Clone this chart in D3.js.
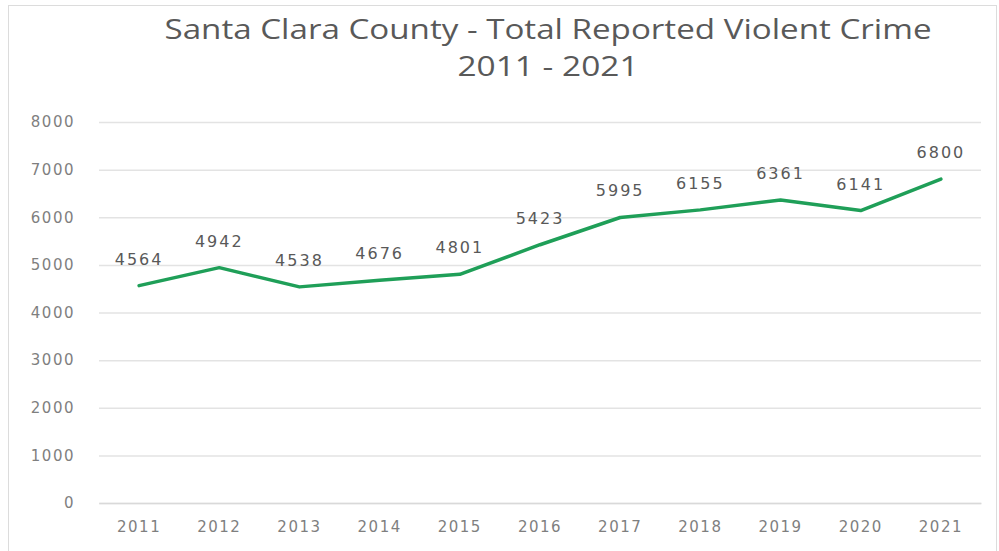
<!DOCTYPE html>
<html>
<head>
<meta charset="utf-8">
<script src="https://cdn.jsdelivr.net/npm/d3@7"></script>
<style>
    body { margin: 0; background: #fff; }
    svg { display: block; }
</style>
</head>
<body>
<script>
/* ========= Data ========= */
var years = ["2011", "2012", "2013", "2014", "2015", "2016", "2017", "2018", "2019", "2020", "2021"];
var crimes = [4564, 4942, 4538, 4676, 4801, 5423, 5995, 6155, 6361, 6141, 6800];
var yTicks = [0, 1000, 2000, 3000, 4000, 5000, 6000, 7000, 8000];
var titleLines = ["Santa Clara County - Total Reported Violent Crime", "2011 - 2021"];

/* ========= Constants ========= */
var w = 999;
var h = 551;
var lineColor = "#1f9f58";
var gridColor = "#e3e3e3";
var labelColor = "#595959";
var tickColor = "#7f7f7f";
var font = "'DejaVu Sans', sans-serif";
// stretched title widths (the original chart is wide)
var titleWidths = [767, 181];

var svg = d3.select("body")
    .append("svg")
    .attr("width", w)
    .attr("height", h);

// chart frame
svg.append("rect")
    .attr("x", 8.5)
    .attr("y", 5.5)
    .attr("width", 988)
    .attr("height", 560)
    .attr("fill", "#fff")
    .attr("stroke", "#dcdcdc");

/* ========= Scales ========= */
var xScale = d3.scaleBand()
    .domain(years)
    .range([99, 981]);
var yScale = d3.scaleLinear()
    .domain([0, 8000])
    .range([503, 122]);

/* ========= Title ========= */
svg.selectAll("text.title")
    .data(titleLines)
    .enter()
    .append("text")
    .attr("class", "title")
    .attr("x", 548)
    .attr("y", function (d, i) { return 39 + i * 37; })
    .attr("text-anchor", "middle")
    .attr("font-family", "'Open Sans', sans-serif")
    .attr("font-size", "28px")
    .attr("textLength", function (d, i) { return titleWidths[i]; })
    .attr("lengthAdjust", "spacingAndGlyphs")
    .attr("fill", labelColor)
    .text(function (d) { return d; });

/* ========= Grid + axes ========= */
var yAxis = d3.axisLeft(yScale)
    .tickValues(yTicks)
    .tickFormat(d3.format("d"))
    .tickSize(-(981 - 99))
    .tickPadding(24);
var gy = svg.append("g")
    .attr("transform", "translate(99,0)")
    .call(yAxis);
gy.select(".domain").remove();
gy.selectAll(".tick line").attr("stroke", gridColor).attr("stroke-width", 1.5);
gy.selectAll(".tick text")
    .attr("font-family", font)
    .attr("font-size", "15px")
    .attr("letter-spacing", "1.5px")
    .attr("fill", tickColor);

var xAxis = d3.axisBottom(xScale)
    .tickSize(0)
    .tickPadding(18);
var gx = svg.append("g")
    .attr("transform", "translate(0,503)")
    .call(xAxis);
gx.select(".domain").attr("stroke", "#d9d9d9").attr("stroke-width", 1.5);
gx.selectAll(".tick text")
    .attr("font-family", font)
    .attr("font-size", "15px")
    .attr("letter-spacing", "1.5px")
    .attr("fill", tickColor);

/* ========= Line ========= */
var line = d3.line()
    .x(function (d, i) { return xScale(years[i]) + xScale.bandwidth() / 2; })
    .y(function (d) { return yScale(d); });

svg.append("path")
    .datum(crimes)
    .attr("fill", "none")
    .attr("stroke", lineColor)
    .attr("stroke-width", 3.5)
    .attr("stroke-linejoin", "round")
    .attr("stroke-linecap", "round")
    .attr("d", line);

/* ========= Data labels ========= */
svg.selectAll("text.val")
    .data(crimes)
    .enter()
    .append("text")
    .attr("class", "val")
    .attr("x", function (d, i) { return xScale(years[i]) + xScale.bandwidth() / 2; })
    .attr("y", function (d) { return yScale(d) - 21; })
    .attr("text-anchor", "middle")
    .attr("font-family", font)
    .attr("font-size", "16px")
    .attr("letter-spacing", "2px")
    .attr("fill", labelColor)
    .text(function (d) { return d; });
</script>
</body>
</html>
